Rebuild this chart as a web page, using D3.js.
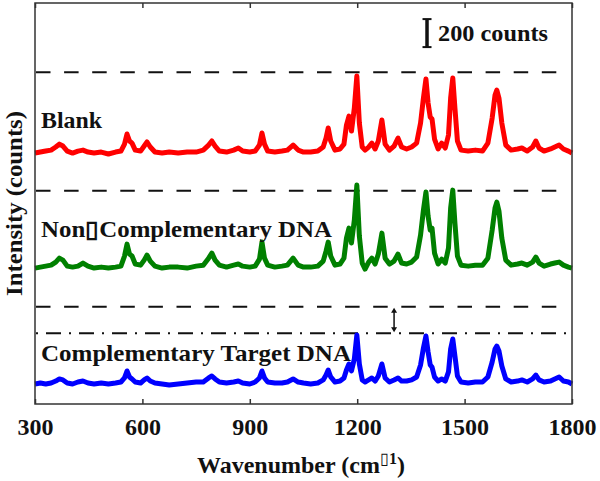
<!DOCTYPE html>
<html>
<head>
<meta charset="utf-8">
<script src="https://cdn.jsdelivr.net/npm/d3@7"></script>
<style>
  body { margin: 0; background: #fff; }
  text { font-family: "Liberation Serif", "Times New Roman", serif; font-weight: bold; fill: #111; }
</style>
</head>
<body>
<svg width="600" height="481"></svg>
<script>
// Raman shift grid (cm-1), shared by the three spectra
const wavenumbers = [
  300, 315, 330, 345, 358, 368, 378, 390, 405, 420,
  434, 448, 465, 485, 505, 525, 540, 550, 557, 564,
  571, 580, 595, 605, 613, 622, 635, 655, 675, 700,
  725, 750, 770, 785, 794, 803, 815, 835, 855, 868,
  880, 900, 915, 927, 934, 941, 950, 970, 990, 1005,
  1021, 1035, 1050, 1070, 1090, 1105, 1113, 1119, 1126, 1138,
  1152, 1163, 1170, 1177, 1184, 1192, 1199, 1206, 1214, 1222,
  1232, 1241, 1250, 1259, 1269, 1278, 1290, 1303, 1314, 1324,
  1338, 1352, 1366, 1377, 1385, 1392, 1398, 1404, 1409, 1416,
  1426, 1436, 1446, 1455, 1461, 1467, 1473, 1480, 1490, 1510,
  1530, 1550, 1565, 1577, 1585, 1590, 1596, 1604, 1615, 1630,
  1648, 1660, 1675, 1690, 1699, 1708, 1722, 1740, 1752, 1764,
  1776, 1790, 1800
];

// intensities above each trace's own baseline (counts)
const blank = [
  0, 7, 14, 21, 43, 64, 50, 14, 0, 14,
  21, 7, 0, 7, -7, 7, 14, 64, 136, 86,
  71, 21, 14, 50, 79, 43, 7, 0, 7, 0,
  7, 7, 21, 57, 86, 50, 14, 7, 21, 36,
  14, 7, 14, 57, 143, 64, 14, 7, 14, 21,
  57, 21, 7, 7, 14, 43, 107, 179, 86, 21,
  29, 64, 200, 264, 157, 321, 550, 214, 43, 21,
  43, 71, 29, 86, 236, 64, 21, 50, 107, 43,
  29, 43, 71, 214, 393, 529, 357, 257, 243, 100,
  29, 71, 36, 129, 393, 536, 321, 86, 21, 14,
  21, 14, 71, 250, 414, 450, 393, 214, 57, 21,
  29, 36, 14, 43, 86, 36, 14, 29, 43, 57,
  29, 14, 0
];
const nonComplementary = [
  0, 7, 14, 21, 43, 71, 57, 14, 7, 14,
  36, 14, 0, 7, 0, 7, 14, 86, 171, 100,
  86, 29, 21, 57, 93, 50, 14, 0, 7, 7,
  0, 14, 21, 71, 107, 57, 21, 7, 21, 29,
  14, 7, 14, 64, 186, 71, 21, 7, 14, 21,
  71, 21, 7, 7, 14, 50, 121, 186, 86, 21,
  29, 71, 214, 286, 179, 343, 593, 229, 36, -7,
  43, 71, 29, 100, 250, 71, 29, 50, 100, 36,
  29, 43, 79, 236, 414, 543, 371, 271, 286, 107,
  29, 64, 36, 143, 429, 557, 321, 86, 21, 14,
  21, 21, 71, 271, 429, 471, 407, 214, 57, 21,
  29, 36, 21, 43, 79, 36, 14, 29, 36, 43,
  21, 7, 0
];
const complementary = [
  0, 7, 0, 7, 21, 36, 29, 7, 0, 14,
  21, 7, 0, 7, 0, 7, 14, 43, 93, 50,
  36, 14, 7, 29, 43, 21, 7, 0, -7, 0,
  7, 14, 14, 43, 57, 36, 14, 7, 14, 21,
  7, 0, 14, 43, 93, 43, 14, 7, 7, 14,
  36, 14, 7, 0, 7, 29, 64, 100, 50, 14,
  21, 43, 100, 143, 93, 179, 350, 143, 29, 14,
  29, 43, 21, 57, 143, 43, 14, 29, 43, 21,
  21, 29, 50, 136, 257, 343, 229, 136, 121, 50,
  21, 36, 21, 86, 250, 321, 200, 57, 14, 7,
  14, 14, 50, 157, 250, 271, 236, 129, 36, 14,
  21, 29, 14, 36, 64, 29, 14, 21, 36, 50,
  21, 14, 0
];

const seriesNames = ["Blank", "Non\u25AFComplementary DNA", "Complementary Target DNA"];
const seriesColors = ["#ff0000", "#008000", "#0000ff"];
const offsets = [1793, 971, 143];        // vertical stacking offset of each trace (counts)
const dashedLevels = [2371, 1524, 695];  // max-peak guide lines
const dashDotLevel = 505;
const xTicks = [300, 600, 900, 1200, 1500, 1800];
const scaleBar = [2550, 2750];           // 200 counts

const svg = d3.select("svg");
const mLeft = 35, mRight = 572, mTop = 3, mBottom = 404;

const x = d3.scaleLinear().domain([300, 1800]).range([mLeft, mRight]);
const y = d3.scaleLinear().domain([0, 2865]).range([mBottom, mTop]);

// guide lines
svg.append("g")
  .selectAll("line")
  .data(dashedLevels)
  .join("line")
    .attr("x1", mLeft + 1)
    .attr("x2", 557)
    .attr("y1", d => y(d))
    .attr("y2", d => y(d))
    .attr("stroke", "#111")
    .attr("stroke-width", 2)
    .attr("stroke-dasharray", "14.5,13.6");

svg.append("line")
  .attr("x1", mLeft + 1)
  .attr("x2", mRight)
  .attr("y1", y(dashDotLevel))
  .attr("y2", y(dashDotLevel))
  .attr("stroke", "#111")
  .attr("stroke-width", 2)
  .attr("stroke-dasharray", "2,8,15,8");

// spectra
const spectra = [blank, nonComplementary, complementary];
const line = d3.line()
  .x((d, i) => x(wavenumbers[i]))
  .y(d => y(d));

svg.append("g")
  .selectAll("path")
  .data(spectra.map((s, k) => s.map(v => v + offsets[k])))
  .join("path")
    .attr("d", line)
    .attr("fill", "none")
    .attr("stroke", (d, k) => seriesColors[k])
    .attr("stroke-width", 5)
    .attr("stroke-linejoin", "round");

// trace labels
const labelY = [128, 237, 361];
const labelLen = [61, 291, 310];
svg.append("g")
  .selectAll("text")
  .data(seriesNames)
  .join("text")
    .attr("x", 41)
    .attr("y", (d, k) => labelY[k])
    .attr("font-size", 23)
    .attr("textLength", (d, k) => labelLen[k])
    .attr("lengthAdjust", "spacingAndGlyphs")
    .text(d => d);

// frame
svg.append("rect")
  .attr("x", mLeft)
  .attr("y", mTop)
  .attr("width", mRight - mLeft)
  .attr("height", mBottom - mTop)
  .attr("fill", "none")
  .attr("stroke", "#333")
  .attr("stroke-width", 1.5);

// x axis, ticks pointing inward
const xAxis = svg.append("g")
  .attr("transform", `translate(0,${mBottom})`)
  .call(d3.axisBottom(x).tickValues(xTicks).tickFormat(d3.format("d"))
    .tickSizeInner(-5).tickSizeOuter(0).tickPadding(0));
xAxis.select(".domain").remove();
xAxis.attr("font-family", null).attr("font-size", null);
xAxis.selectAll("line").attr("stroke", "#333").attr("stroke-width", 1.5);
xAxis.selectAll("text")
  .attr("dy", null)
  .attr("y", 31)
  .attr("font-size", 24)
  .attr("fill", "#111");

const xAxisTop = svg.append("g")
  .attr("transform", `translate(0,${mTop})`)
  .call(d3.axisTop(x).tickValues(xTicks).tickSizeInner(-5).tickSizeOuter(0).tickFormat(""));
xAxisTop.select(".domain").remove();
xAxisTop.selectAll("line").attr("stroke", "#333").attr("stroke-width", 1.5);

// axis titles
const xTitle = svg.append("text")
  .attr("x", 197)
  .attr("y", 473)
  .attr("font-size", 24);
xTitle.append("tspan").text("Wavenumber (cm");
xTitle.append("tspan").attr("dy", -9).attr("font-size", 16).attr("font-weight", "normal").text("\u25AF");
xTitle.append("tspan").attr("font-size", 16).text("1");
xTitle.append("tspan").attr("dy", 9).text(")");

svg.append("text")
  .attr("transform", "rotate(-90)")
  .attr("x", -(mTop + mBottom) / 2)
  .attr("y", 22)
  .attr("text-anchor", "middle")
  .attr("font-size", 24)
  .attr("textLength", 185)
  .attr("lengthAdjust", "spacingAndGlyphs")
  .text("Intensity (counts)");

// 200 counts scale bar
const barX = x(1395);
const bar = svg.append("g").attr("stroke", "#111");
bar.append("line")
  .attr("x1", barX).attr("x2", barX)
  .attr("y1", y(scaleBar[0])).attr("y2", y(scaleBar[1]))
  .attr("stroke-width", 3.5);
bar.selectAll("line.cap")
  .data(scaleBar)
  .join("line")
    .attr("class", "cap")
    .attr("x1", barX - 4.5).attr("x2", barX + 4.5)
    .attr("y1", d => y(d)).attr("y2", d => y(d))
    .attr("stroke-width", 2);
svg.append("text")
  .attr("x", 438)
  .attr("y", 41)
  .attr("font-size", 23)
  .attr("textLength", 110)
  .attr("lengthAdjust", "spacingAndGlyphs")
  .text("200 counts");

// double arrow between the dashed and dash-dot levels
const arrowX = x(1303);
const ay1 = y(dashedLevels[2]) + 1, ay2 = y(dashDotLevel) - 1;
svg.append("line")
  .attr("x1", arrowX).attr("x2", arrowX)
  .attr("y1", ay1 + 3).attr("y2", ay2 - 3)
  .attr("stroke", "#111")
  .attr("stroke-width", 1.5);
svg.append("path")
  .attr("d", `M${arrowX},${ay1}l-3,5h6z M${arrowX},${ay2}l-3,-5h6z`)
  .attr("fill", "#111");
</script>
</body>
</html>
